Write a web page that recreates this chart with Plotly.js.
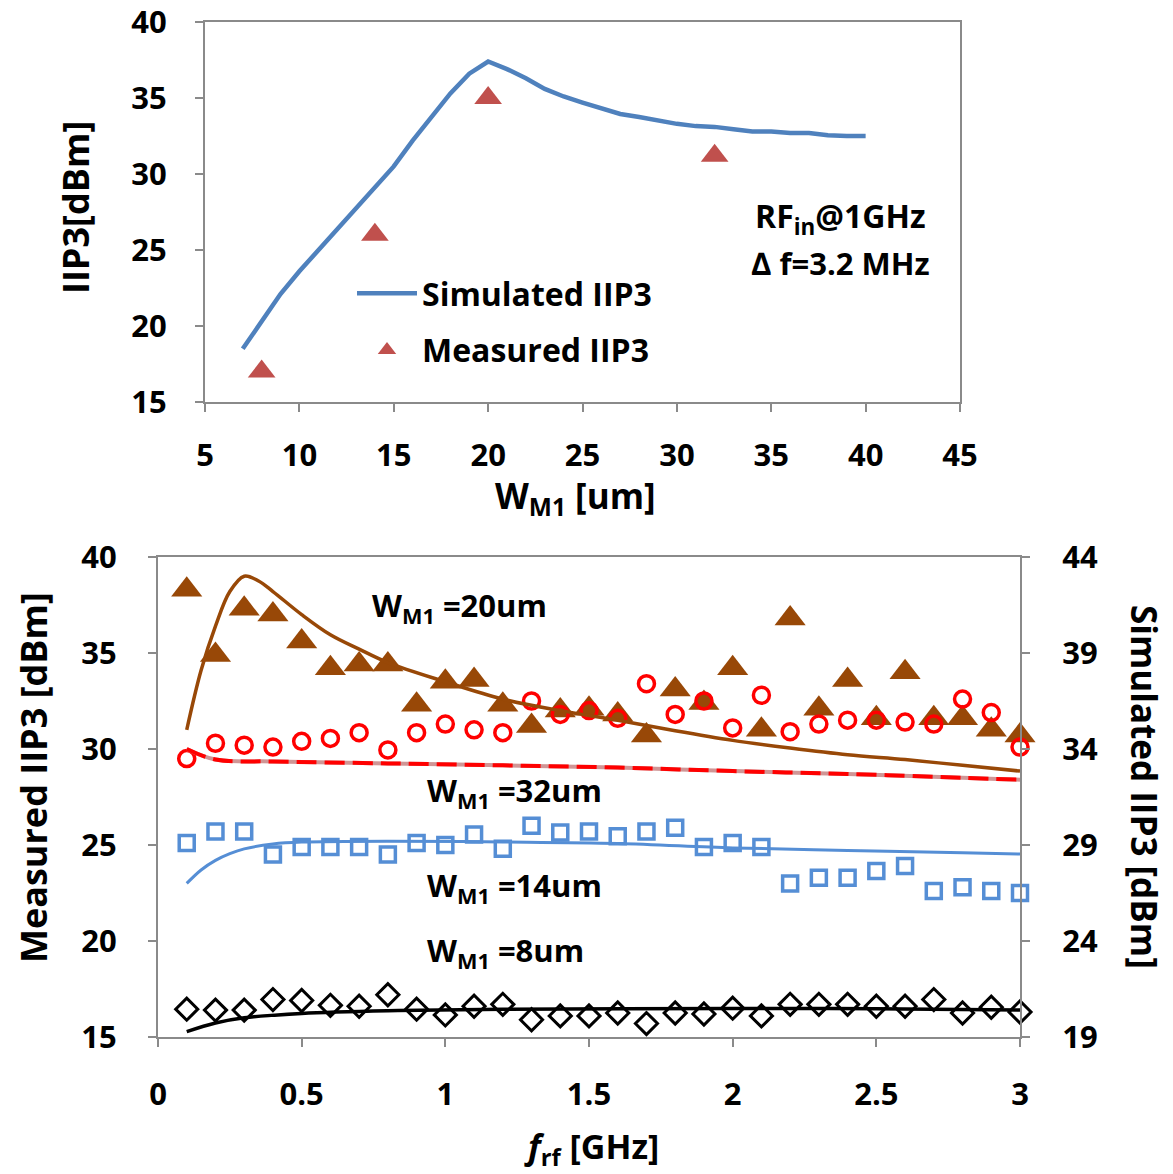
<!DOCTYPE html>
<html>
<head>
<meta charset="utf-8">
<script src="https://cdn.plot.ly/plotly-3.0.1.min.js"></script>
<style>html,body{margin:0;padding:0;background:#fff;}#chart{width:1173px;height:1174px;}</style>
</head>
<body>
<div id="chart"></div>
<script>
// ---------- Top chart data: IIP3 vs W_M1 ----------
const topSimW = [7,8,9,10,11,12,13,14,15,16,17,18,19,20,21,22,23,24,25,26,27,28,29,30,31,32,33,34,35,36,37,38,39,40];
const topSimIIP3 = [18.5,20.3,22.1,23.6,25.0,26.3,27.7,29.1,30.5,32.2,33.7,35.3,36.6,37.4,36.9,36.3,35.6,35.1,34.7,34.3,33.95,33.75,33.5,33.3,33.15,33.1,32.95,32.8,32.8,32.7,32.7,32.55,32.5,32.5];
const topMeasW = [8,14,20,32];
const topMeasIIP3 = [17.0,26.0,35.0,31.2];

// ---------- Bottom chart data: IIP3 vs f_rf ----------
const freqMeas = [0.1,0.2,0.3,0.4,0.5,0.6,0.7,0.8,0.9,1.0,1.1,1.2,1.3,1.4,1.5,1.6,1.7,1.8,1.9,2.0,2.1,2.2,2.3,2.4,2.5,2.6,2.7,2.8,2.9,3.0];
const meas20 = [38.3,34.9,37.3,37.0,35.6,34.2,34.4,34.4,32.3,33.5,33.6,32.3,31.2,32.0,32.1,31.8,30.7,33.1,32.4,34.2,31.0,36.8,32.1,33.6,31.6,34.0,31.6,31.6,31.0,30.7];
const meas32 = [29.5,30.3,30.2,30.1,30.4,30.55,30.85,29.95,30.85,31.3,31.0,30.85,32.5,31.8,32.0,31.6,33.4,31.8,32.5,31.1,32.8,30.9,31.3,31.5,31.5,31.4,31.3,32.6,31.9,30.1];
const meas14 = [25.1,25.7,25.7,24.5,24.9,24.9,24.9,24.5,25.1,25.0,25.55,24.8,26.0,25.65,25.7,25.45,25.7,25.9,24.9,25.1,24.9,23.0,23.3,23.3,23.65,23.9,22.6,22.8,22.6,22.5];
const meas8 = [16.45,16.4,16.4,16.95,16.9,16.65,16.6,17.2,16.45,16.15,16.6,16.7,15.9,16.1,16.1,16.25,15.7,16.25,16.2,16.5,16.1,16.7,16.7,16.7,16.6,16.6,16.95,16.25,16.55,16.3];

// simulated curves (right axis, dBm)
const freqSim20 = [0.1,0.15,0.2,0.25,0.3,0.35,0.4,0.5,0.6,0.7,0.8,1.0,1.2,1.4,1.6,1.8,2.0,2.2,2.4,2.6,2.8,3.0];
const sim20 = [35.0,38.1,40.4,42.2,43.0,42.75,42.2,41.0,39.95,39.2,38.5,37.5,36.6,36.0,35.5,34.95,34.45,34.05,33.7,33.45,33.15,32.85];
const freqSim32 = [0.1,0.2,0.4,0.8,1.2,1.6,2.0,2.4,2.8,3.0];
const sim32 = [34.0,33.45,33.35,33.25,33.15,33.03,32.85,32.7,32.5,32.4];
const freqSim14 = [0.1,0.15,0.2,0.25,0.3,0.4,0.5,0.8,1.2,1.6,2.0,2.4,2.8,3.0];
const sim14 = [27.0,27.7,28.2,28.55,28.8,29.05,29.15,29.2,29.16,29.08,28.85,28.72,28.6,28.53];
const freqSim8 = [0.1,0.2,0.3,0.5,0.8,1.2,2.0,2.5,3.0];
const sim8 = [19.28,19.73,20.0,20.23,20.37,20.44,20.48,20.47,20.4];

const xTicksTop = [5,10,15,20,25,30,35,40,45];
const yTicksTop = [15,20,25,30,35,40];
const xTicksBot = [0,0.5,1,1.5,2,2.5,3];
const xTickTextBot = ['0','0.5','1','1.5','2','2.5','3'];
const yTicksLeft = [15,20,25,30,35,40];
const yTicksRight = [19,24,29,34,39,44];

// ---------- styling ----------
const FONT = 'Open Sans, Liberation Sans, Arial, sans-serif';
const W = 1173, H = 1174;
const px = v => v / W;
const py = v => 1 - v / H;
const GRAY = '#8a8a8a';
const BROWN = '#984807';
const RED = '#ff0000';
const BLUE = '#558ed5';
const TOPBLUE = '#4f81bd';
const TOPRED = '#c0504d';

const traces = [
  {x: topSimW, y: topSimIIP3, xaxis:'x', yaxis:'y', mode:'lines', name:'Simulated IIP3',
   line:{color:TOPBLUE, width:4.5}, showlegend:true, legendgroup:'a', cliponaxis:false},
  {x: topMeasW, y: topMeasIIP3, xaxis:'x', yaxis:'y', mode:'markers', name:'Measured IIP3',
   marker:{symbol:'triangle-up', size:24, color:TOPRED}, showlegend:true, legendgroup:'b', cliponaxis:false},

  // bottom simulated lines (right axis)
  {x: freqSim32, y: sim32, xaxis:'x2', yaxis:'y3', mode:'lines', line:{color:'#d09595', width:4, shape:'spline'}, showlegend:false, cliponaxis:false},
  {x: freqSim32, y: sim32, xaxis:'x2', yaxis:'y3', mode:'lines', line:{color:RED, width:4, dash:'20px,8px', shape:'spline'}, showlegend:false, cliponaxis:false},
  {x: freqSim20, y: sim20, xaxis:'x2', yaxis:'y3', mode:'lines', line:{color:BROWN, width:3.5, shape:'spline'}, showlegend:false, cliponaxis:false},
  {x: freqSim14, y: sim14, xaxis:'x2', yaxis:'y3', mode:'lines', line:{color:BLUE, width:3, shape:'spline'}, showlegend:false, cliponaxis:false},
  {x: freqSim8, y: sim8, xaxis:'x2', yaxis:'y3', mode:'lines', line:{color:'#000', width:3.5, shape:'spline'}, showlegend:false, cliponaxis:false},

  // bottom measured markers (left axis)
  {x: freqMeas, y: meas20, xaxis:'x2', yaxis:'y2', mode:'markers', marker:{symbol:'triangle-up', size:27, color:BROWN}, showlegend:false, cliponaxis:false},
  {x: freqMeas, y: meas32, xaxis:'x2', yaxis:'y2', mode:'markers', marker:{symbol:'circle-open', size:16, color:RED, line:{color:RED, width:3.5}}, showlegend:false, cliponaxis:false},
  {x: freqMeas, y: meas14, xaxis:'x2', yaxis:'y2', mode:'markers', marker:{symbol:'square-open', size:15, color:BLUE, line:{color:BLUE, width:3.5}}, showlegend:false, cliponaxis:false},
  {x: freqMeas, y: meas8, xaxis:'x2', yaxis:'y2', mode:'markers', marker:{symbol:'diamond-open', size:17, color:'#000', line:{color:'#000', width:3}}, showlegend:false, cliponaxis:false}
];

const tickFont = {family:FONT, size:31, color:'#000', weight:'bold'};
const axisBase = {
  showgrid:false, zeroline:false, showline:true, linecolor:GRAY, linewidth:2,
  ticks:'outside', ticklen:8, tickwidth:2, tickcolor:GRAY, tickfont:tickFont,
  ticklabeloverflow:'allow'
};

const layout = {
  width:W, height:H, margin:{l:0, r:0, t:0, b:0},
  paper_bgcolor:'#fff', plot_bgcolor:'rgba(0,0,0,0)',
  font:{family:FONT, color:'#000'},
  xaxis: Object.assign({}, axisBase, {domain:[px(205), px(960)], range:[5,45], tickmode:'array', tickvals:xTicksTop, ticktext:xTicksTop.map(String), anchor:'y', mirror:true, ticklabelstandoff:17}),
  yaxis: Object.assign({}, axisBase, {domain:[py(402), py(22)], range:[15,40], tickmode:'array', tickvals:yTicksTop, ticktext:yTicksTop.map(String), anchor:'x', mirror:true, ticklabelstandoff:22}),
  xaxis2: Object.assign({}, axisBase, {domain:[px(158), px(1020)], range:[0,3], tickmode:'array', tickvals:xTicksBot, ticktext:xTickTextBot, anchor:'y2', mirror:true, ticklabelstandoff:21}),
  yaxis2: Object.assign({}, axisBase, {domain:[py(1037), py(557)], range:[15,40], tickmode:'array', tickvals:yTicksLeft, ticktext:yTicksLeft.map(String), anchor:'x2', ticklabelstandoff:25}),
  yaxis3: Object.assign({}, axisBase, {range:[19,44], tickmode:'array', tickvals:yTicksRight, ticktext:yTicksRight.map(String), anchor:'x2', overlaying:'y2', side:'right', ticklabelstandoff:26}),
  showlegend:true,
  legend:{x:px(352), y:py(266), xanchor:'left', yanchor:'top', bgcolor:'rgba(0,0,0,0)', tracegroupgap:12,
          font:{family:FONT, size:32, color:'#000', weight:'bold'}, itemwidth:60},
  annotations:[
    {xref:'paper', yref:'paper', x:px(75), y:py(208), text:'IIP3[dBm]', textangle:-90, showarrow:false, xanchor:'center', yanchor:'middle', font:{family:FONT, size:36, weight:'bold'}},
    {xref:'paper', yref:'paper', x:px(575), y:py(497), text:'W<sub>M1</sub> [um]', showarrow:false, xanchor:'center', yanchor:'middle', font:{family:FONT, size:35, weight:'bold'}},
    {xref:'paper', yref:'paper', x:px(840), y:py(218), text:'RF<sub>in</sub>@1GHz', showarrow:false, xanchor:'center', yanchor:'middle', font:{family:FONT, size:32, weight:'bold'}},
    {xref:'paper', yref:'paper', x:px(840), y:py(263), text:'∆ f=3.2 MHz', showarrow:false, xanchor:'center', yanchor:'middle', font:{family:FONT, size:31, weight:'bold'}},
    {xref:'paper', yref:'paper', x:px(33), y:py(778), text:'Measured IIP3 [dBm]', textangle:-90, showarrow:false, xanchor:'center', yanchor:'middle', font:{family:FONT, size:36, weight:'bold'}},
    {xref:'paper', yref:'paper', x:px(1145), y:py(787), text:'Simulated IIP3 [dBm]', textangle:90, showarrow:false, xanchor:'center', yanchor:'middle', font:{family:FONT, size:35, weight:'bold'}},
    {xref:'paper', yref:'paper', x:px(591), y:py(1148), text:'<i>f</i><sub>rf</sub> [GHz]', showarrow:false, xanchor:'center', yanchor:'middle', font:{family:FONT, size:34, weight:'bold'}},
    {xref:'paper', yref:'paper', x:px(370), y:py(607), text:'W<sub>M1</sub> =20um', showarrow:false, xanchor:'left', yanchor:'middle', font:{family:FONT, size:31, weight:'bold'}},
    {xref:'paper', yref:'paper', x:px(425), y:py(792), text:'W<sub>M1</sub> =32um', showarrow:false, xanchor:'left', yanchor:'middle', font:{family:FONT, size:31, weight:'bold'}},
    {xref:'paper', yref:'paper', x:px(425), y:py(887), text:'W<sub>M1</sub> =14um', showarrow:false, xanchor:'left', yanchor:'middle', font:{family:FONT, size:31, weight:'bold'}},
    {xref:'paper', yref:'paper', x:px(425), y:py(952), text:'W<sub>M1</sub> =8um', showarrow:false, xanchor:'left', yanchor:'middle', font:{family:FONT, size:31, weight:'bold'}}
  ]
};

Plotly.newPlot('chart', traces, layout, {displayModeBar:false, staticPlot:true});
</script>
</body>
</html>
